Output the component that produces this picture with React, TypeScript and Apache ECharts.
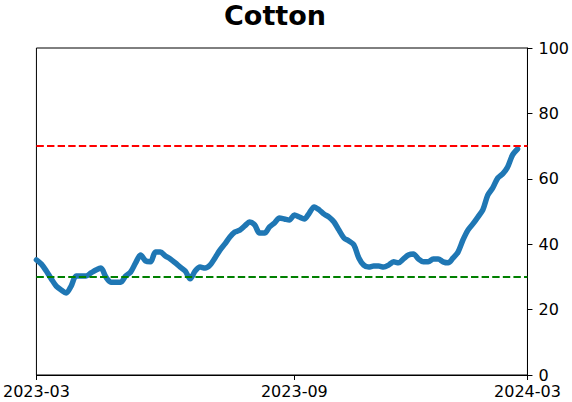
import React, { useEffect, useRef } from "react";
import * as echarts from "echarts";

const titleText = "Cotton";
const values = [
  35.2, 33.9, 31.8, 29.4, 27.2, 26.0, 25.1, 27.2, 30.3, 30.3,
  30.3, 31.2, 32.1, 32.7, 30.0, 28.4, 28.4, 28.4, 30.3, 31.5,
  34.3, 36.7, 34.9, 34.6, 37.6, 37.6, 36.4, 35.5, 34.3, 33.0,
  31.8, 29.4, 31.8, 33.0, 32.7, 33.6, 35.8, 38.2, 40.1, 42.2,
  43.7, 44.3, 45.6, 46.8, 45.9, 43.4, 43.4, 45.3, 46.5, 48.0,
  47.7, 47.4, 48.9, 48.3, 47.7, 49.5, 51.4, 50.5, 49.2, 48.3,
  46.8, 44.3, 41.9, 41.0, 39.8, 35.8, 33.6, 33.0, 33.3, 33.3,
  33.0, 33.6, 34.6, 34.3, 35.5, 36.7, 37.0, 35.5, 34.6, 34.6,
  35.5, 35.5, 34.6, 34.3, 35.8, 37.6, 41.3, 44.3, 46.2, 48.3,
  50.5, 55.0, 57.2, 60.2, 61.5, 63.6, 67.3, 69.1,
];
const categoryCount = 100;
const tickLabels = ["2023-03", "2023-09", "2024-03"];
const tickIndices = [0, 52, 99];
const upperThreshold = 70;
const lowerThreshold = 30;
const yTicks = [0, 20, 40, 60, 80, 100];

const categories = Array.from({ length: categoryCount }, (_, i) => String(i));

export default function App() {
  const ref = useRef<HTMLDivElement>(null);
  useEffect(() => {
    if (!ref.current) return;
    const chart = echarts.init(ref.current, null, { renderer: "svg" });
    const font = "DejaVu Sans";
    const isTick = (i: number) => tickIndices.includes(i);
    chart.setOption({
      animation: false,
      title: {
        text: titleText,
        left: 275,
        top: 1,
        padding: 0,
        textAlign: "center",
        textStyle: {
          fontFamily: font,
          fontSize: 27,
          fontWeight: "bold",
          color: "#000",
          lineHeight: 28,
        },
      },
      grid: {
        left: 36,
        right: 41,
        top: 48,
        bottom: 27,
        show: true,
        borderColor: "#000",
        borderWidth: 1,
        backgroundColor: "transparent",
      },
      xAxis: {
        type: "category",
        data: categories,
        boundaryGap: false,
        axisLine: { show: true, lineStyle: { color: "#000", width: 1 } },
        axisTick: {
          show: true,
          length: 5,
          interval: (i: number) => isTick(i),
          lineStyle: { color: "#000" },
        },
        axisLabel: {
          show: true,
          interval: (i: number) => isTick(i),
          formatter: (_v: string, i: number) => tickLabels[tickIndices.indexOf(i)] ?? "",
          fontFamily: font,
          fontSize: 16,
          color: "#000",
          margin: 8,
          showMinLabel: true,
          showMaxLabel: true,
        },
        splitLine: { show: false },
      },
      yAxis: {
        type: "value",
        position: "right",
        min: yTicks[0],
        max: yTicks[yTicks.length - 1],
        interval: 20,
        axisLine: { show: true, lineStyle: { color: "#000", width: 1 } },
        axisTick: { show: true, length: 5, lineStyle: { color: "#000" } },
        axisLabel: { fontFamily: font, fontSize: 16, color: "#000", margin: 11 },
        splitLine: { show: false },
      },
      series: [
        {
          type: "line",
          data: values,
          showSymbol: false,
          symbol: "none",
          smooth: 0.3,
          lineStyle: { color: "#1f77b4", width: 5.5, cap: "round", join: "round" },
          z: 2,
          markLine: {
            silent: true,
            symbol: "none",
            label: { show: false },
            z: 5,
            data: [
              { yAxis: upperThreshold, lineStyle: { color: "#ff0000", width: 2.2, type: [7.4, 3.2] } },
              { yAxis: lowerThreshold, lineStyle: { color: "#008000", width: 2.2, type: [7.4, 3.2] } },
            ],
          },
        },
      ],
    });
    return () => chart.dispose();
  }, []);
  return (
    <div
      ref={ref}
      style={{ position: "fixed", left: 0, top: 0, width: 572, height: 402, background: "#fff" }}
    />
  );
}
